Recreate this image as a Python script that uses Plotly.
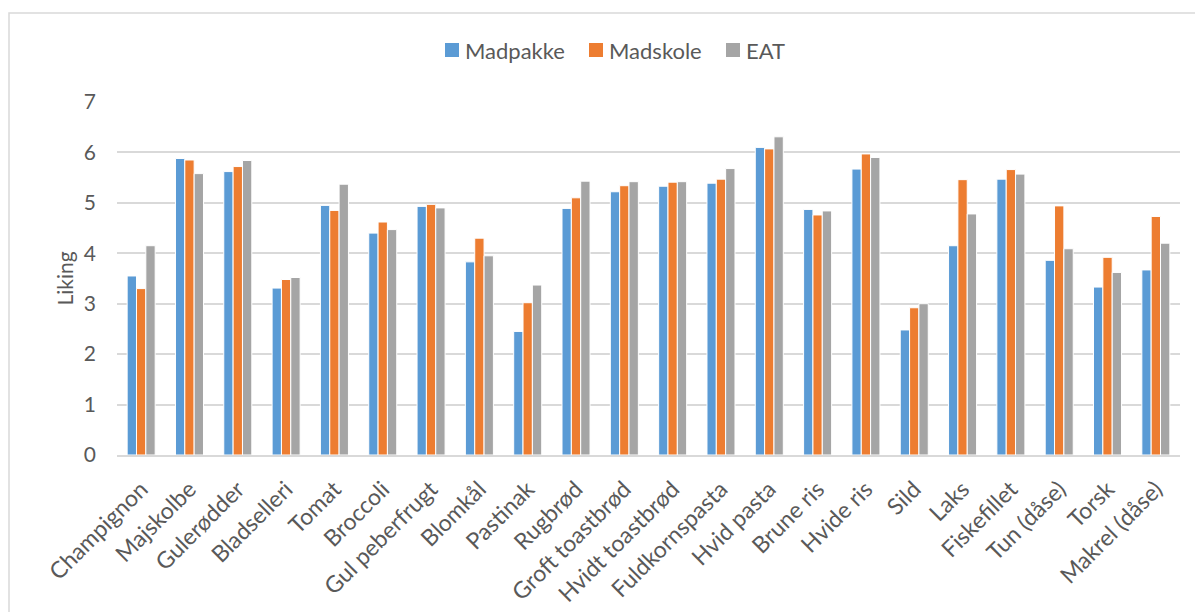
import plotly.graph_objects as go

categories = ["Champignon", "Majskolbe", "Gulerødder", "Bladselleri", "Tomat",
              "Broccoli", "Gul peberfrugt", "Blomkål", "Pastinak", "Rugbrød",
              "Groft toastbrød", "Hvidt toastbrød", "Fuldkornspasta", "Hvid pasta",
              "Brune ris", "Hvide ris", "Sild", "Laks", "Fiskefillet", "Tun (dåse)",
              "Torsk", "Makrel (dåse)"]

madpakke = [3.55, 5.88, 5.62, 3.31, 4.95, 4.40, 4.93, 3.83, 2.45, 4.89, 5.22,
            5.33, 5.39, 6.10, 4.87, 5.67, 2.48, 4.15, 5.47, 3.86, 3.33, 3.67]
madskole = [3.30, 5.85, 5.72, 3.48, 4.85, 4.62, 4.97, 4.30, 3.02, 5.10, 5.34,
            5.41, 5.47, 6.07, 4.76, 5.97, 2.92, 5.46, 5.66, 4.94, 3.92, 4.73]
eat = [4.15, 5.58, 5.84, 3.52, 5.37, 4.47, 4.90, 3.95, 3.37, 5.43, 5.42,
       5.42, 5.68, 6.31, 4.84, 5.90, 3.00, 4.78, 5.57, 4.09, 3.62, 4.20]

series = [("Madpakke", madpakke, "#5B9BD5"),
          ("Madskole", madskole, "#ED7D31"),
          ("EAT", eat, "#A5A5A5")]

FONT = "Lato, Open Sans, sans-serif"
TEXT = "#595959"

W, H = 1195, 612
ml, mr, mt, mb = 117, 15, 102, 157
pw, ph = W - ml - mr, H - mt - mb


def px_x(x):
    """Convert a figure pixel x position to paper coordinates."""
    return (x - ml) / pw


def px_y(y):
    """Convert a figure pixel y position (from top) to paper coordinates."""
    return (H - mb - y) / ph


fig = go.Figure()
for name, vals, color in series:
    fig.add_trace(go.Bar(
        name=name, x=categories, y=vals, showlegend=False,
        marker=dict(color=color, line=dict(color="white", width=1)),
    ))

# Legend row above the plot: coloured square followed by the series name
legend_x = [445, 589, 726]
shapes = []
annotations = []
for (name, _, color), lx in zip(series, legend_x):
    shapes.append(dict(type="rect", xref="paper", yref="paper",
                       x0=px_x(lx), x1=px_x(lx + 14),
                       y0=px_y(57), y1=px_y(43),
                       fillcolor=color, line=dict(width=0)))
    annotations.append(dict(text=name, xref="paper", yref="paper",
                            x=px_x(lx + 18), y=px_y(50), xanchor="left",
                            yanchor="middle", showarrow=False,
                            font=dict(size=22, color=TEXT, family=FONT)))

# Chart-area border
shapes.append(dict(type="rect", xref="paper", yref="paper",
                   x0=px_x(9), x1=px_x(W + 5),
                   y0=px_y(H + 5), y1=px_y(13),
                   line=dict(color="#D9D9D9", width=1.5),
                   fillcolor="rgba(0,0,0,0)", layer="below"))

fig.update_layout(
    width=W, height=H,
    margin=dict(l=ml, r=mr, t=mt, b=mb, autoexpand=False),
    paper_bgcolor="white", plot_bgcolor="white",
    barmode="group", bargap=0.42, bargroupgap=0.0,
    font=dict(family=FONT, color=TEXT, size=21),
    showlegend=False,
    xaxis=dict(tickangle=-45, tickfont=dict(size=23, color=TEXT),
               showline=True, linecolor="#D9D9D9", linewidth=1.5,
               ticks="", showgrid=False, ticklabelstandoff=10,
               automargin=False),
    yaxis=dict(range=[0, 7], dtick=1, tickfont=dict(size=21, color=TEXT),
               gridcolor="#D9D9D9", gridwidth=1.5, zeroline=False,
               ticks="", ticklabelstandoff=20, automargin=False,
               title=dict(text="Liking", font=dict(size=21, color=TEXT), standoff=4)),
    shapes=shapes,
    annotations=annotations,
)

fig.write_html("out.html")
